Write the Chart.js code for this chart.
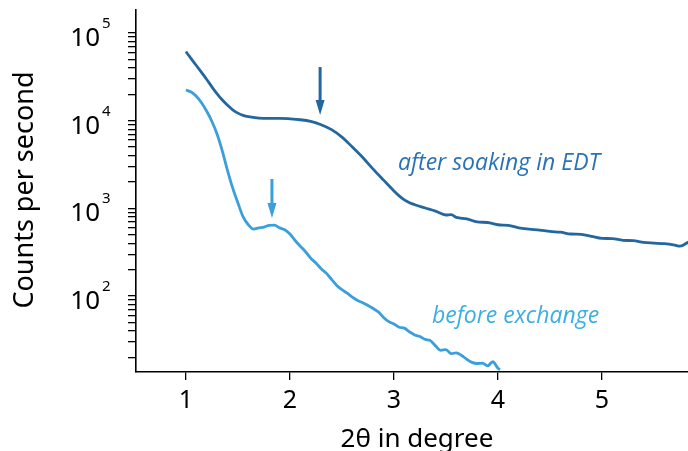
<!DOCTYPE html>
<html>
<head>
<meta charset="utf-8">
<script src="https://cdn.jsdelivr.net/npm/chart.js@4"></script>
<style>
  html, body { margin: 0; padding: 0; background: #fff; }
  #wrap { width: 688px; height: 451px; }
</style>
</head>
<body>
<div id="wrap"><canvas id="chart"></canvas></div>
<script>
// after soaking in EDT
const afterX = [1.00, 1.05, 1.10, 1.15, 1.20, 1.25, 1.30, 1.35, 1.40, 1.45, 1.50, 1.55, 1.60, 1.70, 1.80, 1.90, 2.00, 2.10, 2.20, 2.30, 2.40, 2.50, 2.60, 2.70, 2.80, 2.90, 3.00, 3.05, 3.10, 3.15, 3.20, 3.30, 3.40, 3.50, 3.55, 3.60, 3.70, 3.80, 3.90, 4.00, 4.10, 4.20, 4.30, 4.40, 4.50, 4.60, 4.70, 4.80, 4.90, 5.00, 5.10, 5.20, 5.30, 5.40, 5.50, 5.60, 5.70, 5.75, 5.83];
const afterY = [61200, 51000, 42600, 35500, 29500, 24300, 20200, 17200, 15000, 13300, 12200, 11500, 11100, 10700, 10600, 10650, 10500, 10250, 9800, 9000, 7900, 6500, 5000, 3800, 2800, 2100, 1580, 1390, 1250, 1160, 1100, 1010, 930, 840, 850, 790, 760, 700, 690, 650, 640, 600, 580, 565, 545, 535, 510, 505, 480, 455, 452, 432, 428, 410, 402, 395, 380, 370, 412];

// before exchange
const beforeX = [1.00, 1.05, 1.10, 1.15, 1.20, 1.25, 1.30, 1.35, 1.40, 1.45, 1.50, 1.55, 1.60, 1.65, 1.70, 1.75, 1.80, 1.85, 1.90, 1.95, 2.00, 2.05, 2.10, 2.15, 2.20, 2.25, 2.30, 2.35, 2.40, 2.45, 2.50, 2.55, 2.60, 2.65, 2.70, 2.75, 2.80, 2.85, 2.90, 2.95, 3.00, 3.05, 3.10, 3.15, 3.20, 3.25, 3.30, 3.35, 3.40, 3.45, 3.50, 3.55, 3.60, 3.65, 3.70, 3.75, 3.80, 3.85, 3.90, 3.95, 4.00, 4.02];
const beforeY = [22400, 21200, 19000, 16000, 12800, 9800, 7000, 4500, 2700, 1700, 1150, 800, 650, 580, 600, 610, 640, 645, 600, 570, 510, 430, 370, 320, 270, 238, 205, 182, 155, 132, 118, 108, 97, 89, 84, 78, 72, 66, 57, 51, 48, 44, 43, 39, 36, 34.5, 32, 31, 27, 24, 24.5, 22, 22.5, 21, 19, 17.5, 17, 17.2, 16, 17.8, 15, 14.5];

// axis ticks and annotations
const xTickValues = [1, 2, 3, 4, 5];
const yDecades = [2, 3, 4, 5];
const arrows = [
  { x: 2.29, from: 40900, to: 11600, color: '#22679f' },
  { x: 1.827, from: 2160, to: 776, color: '#3a9fdb' }
];
const notes = [
  { text: 'after soaking in EDT', x: 3.038, y: 3210, color: '#2a72b6' },
  { text: 'before exchange', x: 3.365, y: 57.8, color: '#3caee4' }
];

const toPoints = (xs, ys) => xs.map((x, i) => ({ x: x, y: ys[i] }));

const extras = {
  id: 'extras',
  afterDraw(chart) {
    const ctx = chart.ctx;
    const xs = chart.scales.x, ys = chart.scales.y;
    ctx.save();
    // y tick labels 10^n
    ctx.fillStyle = '#000';
    ctx.textBaseline = 'alphabetic';
    yDecades.forEach(n => {
      const py = ys.getPixelForValue(Math.pow(10, n));
      ctx.font = '26px "Noto Sans"';
      ctx.textAlign = 'right';
      ctx.fillText('10', 100, py + 13);
      ctx.font = '15px "Noto Sans"';
      ctx.textAlign = 'left';
      ctx.fillText(String(n), 102, py - 5);
    });
    // axis titles
    ctx.font = '26px "Noto Sans"';
    ctx.textAlign = 'center';
    ctx.textBaseline = 'alphabetic';
    ctx.fillText('2\u03b8 in degree', 417, 447);
    ctx.save();
    ctx.translate(33, 190);
    ctx.rotate(-Math.PI / 2);
    ctx.font = '27px "Noto Sans"';
    ctx.fillText('Counts per second', 0, 0);
    ctx.restore();
    // annotations
    ctx.font = 'italic 23px "Open Sans"';
    ctx.textAlign = 'left';
    ctx.textBaseline = 'middle';
    notes.forEach(n => {
      ctx.fillStyle = n.color;
      ctx.fillText(n.text, xs.getPixelForValue(n.x), ys.getPixelForValue(n.y));
    });
    arrows.forEach(a => {
      const px = xs.getPixelForValue(a.x);
      const y0 = ys.getPixelForValue(a.from);
      const y1 = ys.getPixelForValue(a.to);
      ctx.strokeStyle = a.color;
      ctx.fillStyle = a.color;
      ctx.lineWidth = 3;
      ctx.beginPath();
      ctx.moveTo(px, y0);
      ctx.lineTo(px, y1 - 12);
      ctx.stroke();
      ctx.beginPath();
      ctx.moveTo(px - 4.5, y1 - 15);
      ctx.lineTo(px + 4.5, y1 - 15);
      ctx.lineTo(px, y1);
      ctx.closePath();
      ctx.fill();
    });
    ctx.restore();
  }
};

new Chart(document.getElementById('chart'), {
  type: 'line',
  data: {
    datasets: [
      {
        label: 'after soaking in EDT',
        data: toPoints(afterX, afterY),
        borderColor: '#22679f',
        borderWidth: 2.8,
        pointRadius: 0,
        cubicInterpolationMode: 'monotone',
        fill: false
      },
      {
        label: 'before exchange',
        data: toPoints(beforeX, beforeY),
        borderColor: '#3a9fdb',
        borderWidth: 2.8,
        pointRadius: 0,
        cubicInterpolationMode: 'monotone',
        fill: false
      }
    ]
  },
  options: {
    responsive: true,
    maintainAspectRatio: false,
    animation: false,
    layout: { padding: { top: 10, right: 0, left: 0, bottom: 0 } },
    plugins: {
      legend: { display: false },
      tooltip: { enabled: false }
    },
    scales: {
      x: {
        type: 'linear',
        min: 0.52,
        max: 5.827,
        afterFit(scale) { scale.height = 79; },
        afterBuildTicks(scale) {
          scale.ticks = xTickValues.map(v => ({ value: v }));
        },
        ticks: {
          includeBounds: false,
          color: '#000',
          font: { family: 'Noto Sans', size: 25 },
          padding: 6,
          maxRotation: 0
        },
        grid: {
          drawOnChartArea: false,
          drawTicks: true,
          tickLength: 8,
          color: '#000',
          lineWidth: 1.3
        },
        border: { display: true, color: '#000', width: 1.6 }
      },
      y: {
        type: 'logarithmic',
        min: 13.6,
        max: 183000,
        afterFit(scale) { scale.width = 136; },
        afterBuildTicks(scale) {
          const t = [];
          for (let e = 1; e <= 5; e++) {
            for (let m = 1; m <= 9; m++) {
              const v = m * Math.pow(10, e);
              if (v >= 14 && v <= 180000) t.push({ value: v });
            }
          }
          scale.ticks = t;
        },
        ticks: { display: false },
        grid: {
          drawOnChartArea: false,
          drawTicks: true,
          tickLength: 8,
          color: '#000',
          lineWidth: 1.3
        },
        border: { display: true, color: '#000', width: 1.6 }
      }
    }
  },
  plugins: [extras]
});
</script>
</body>
</html>
